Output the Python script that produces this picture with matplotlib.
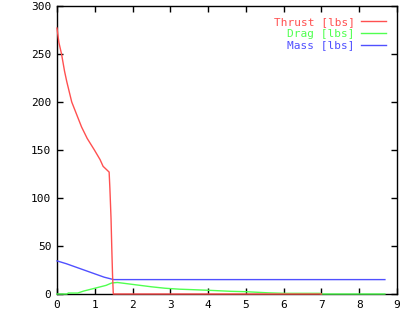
import matplotlib
matplotlib.use('Agg')
import matplotlib.pyplot as plt

# thrust curve
t_thrust = [0, 0.05, 0.12, 0.2, 0.26, 0.39, 0.5, 0.65, 0.8, 0.99, 1.14, 1.22, 1.38, 1.40, 1.43, 1.45, 1.47, 1.49, 2, 3, 4, 5, 6, 7.0]
thrust = [277, 262, 250, 232, 221, 200, 189, 174, 162, 150, 140, 133, 127, 110, 79, 48, 20, 0, 0, 0, 0, 0, 0, 0]

# drag
t_drag = [0, 0.26, 0.3, 0.55, 0.7, 0.9, 1.1, 1.3, 1.45, 1.6, 1.8, 2.0, 2.2, 2.5, 2.86, 3.25, 3.6, 4.05, 4.6, 5.0, 5.3, 5.6, 6.0, 6.95, 7.0, 8.0, 8.68]
drag = [0, 0, 1, 1, 3, 5, 7, 9, 11.5, 12, 11, 10, 9, 7.5, 6, 5, 4.5, 3.8, 2.8, 2.4, 1.8, 1.2, 0.7, 0.7, 0, 0, 0]

# mass
t_mass = [0, 0.25, 0.5, 0.75, 1.0, 1.25, 1.4, 1.5, 8.68]
mass = [34.5, 31.5, 28, 24.5, 21, 17.5, 16, 15, 15]

red = '#ff5050'
green = '#50ff50'
blue = '#5050ff'

plt.rcParams['font.family'] = 'DejaVu Sans Mono'
plt.rcParams['font.size'] = 8

fig = plt.figure(figsize=(4.16, 3.12), dpi=100)
ax = fig.add_axes([57 / 416, 18 / 312, 340 / 416, 288 / 312])

ax.plot(t_thrust, thrust, color=red, lw=1, label='Thrust [lbs]', clip_on=False, zorder=5)
ax.plot(t_drag, drag, color=green, lw=1, label='Drag [lbs]', clip_on=False, zorder=4)
ax.plot(t_mass, mass, color=blue, lw=1, label='Mass [lbs]', clip_on=False, zorder=3)

ax.set_xlim(0, 9)
ax.set_ylim(0, 300)
ax.set_xticks(range(0, 10))
ax.set_yticks(range(0, 301, 50))
ax.tick_params(direction='in', top=True, right=True, length=4, width=1, pad=4, labelsize=8)
for s in ax.spines.values():
    s.set_linewidth(1)

leg = ax.legend(loc='upper right', frameon=False, markerfirst=False, handlelength=2.2,
                handletextpad=0.6, labelspacing=0.15, borderaxespad=0.6, fontsize=8)
for txt, ln in zip(leg.get_texts(), leg.get_lines()):
    txt.set_color(ln.get_color())
    txt.set_ha('right')
leg._legend_box.align = 'right'

fig.savefig('out.png', dpi=100)
